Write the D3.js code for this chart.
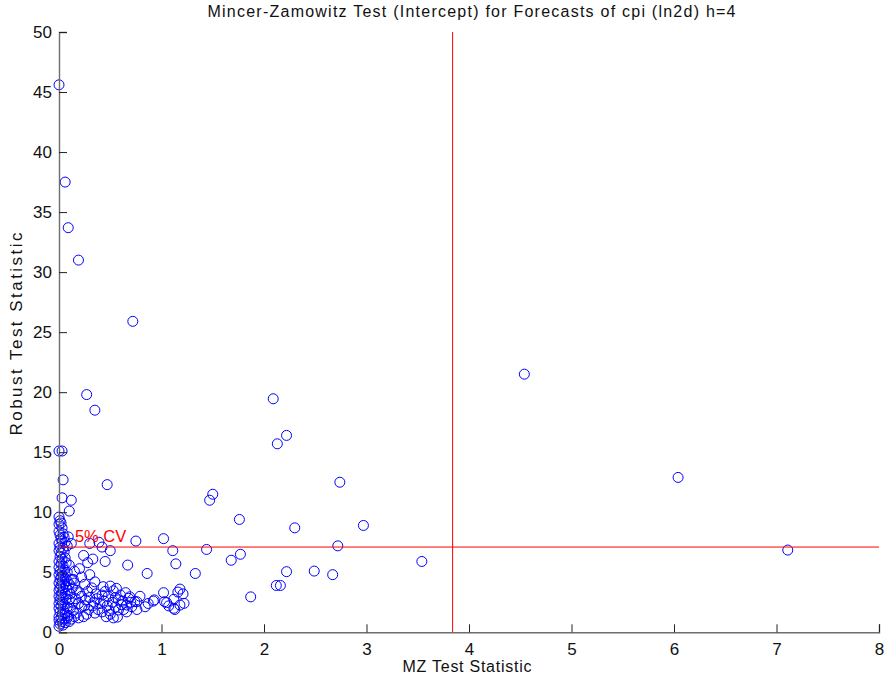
<!DOCTYPE html>
<html><head><meta charset="utf-8">
<script src="https://cdn.jsdelivr.net/npm/d3@7"></script>
<style>body{margin:0;background:#fff}svg{display:block}text{font-family:"Liberation Sans",Arial,sans-serif}</style>
</head><body>
<script>
const titleText = "Mincer-Zamowitz Test (Intercept) for Forecasts of cpi (ln2d) h=4";
const xLabel = "MZ Test Statistic";
const yLabel = "Robust Test Statistic";
const xTicks = [0,1,2,3,4,5,6,7,8];
const yTicks = [0,5,10,15,20,25,30,35,40,45,50];
const cvX = 3.84;
const cvY = 7.1;
const cvLabel = "5% CV";

// MZ statistic (x) and robust statistic (y)
const points = [
// outliers
[0.00,45.6],[0.06,37.5],[0.09,33.7],[0.19,31.0],[0.72,25.9],[0.27,19.8],[0.35,18.5],[0.00,15.1],[0.03,15.1],[0.04,12.7],[0.47,12.3],[0.03,11.2],[0.12,11.0],[0.10,10.1],
[2.09,19.45],[2.22,16.4],[2.13,15.7],[4.54,21.5],[6.04,12.9],[7.11,6.85],[3.54,5.9],[2.97,8.9],[2.74,12.5],[2.72,7.2],[2.67,4.8],[2.49,5.1],[2.22,5.05],[2.30,8.7],[1.76,9.4],[1.50,11.5],[1.47,11.0],[1.02,7.8],[1.11,6.8],[1.44,6.9],[1.77,6.5],[1.68,6.0],[1.14,5.7],[0.86,4.9],[1.33,4.9],[2.12,3.9],[2.16,3.9],[1.87,2.95],[0.75,7.6],[0.67,5.6],
// left column
[0.00,9.6],[0.01,9.3],[0.00,9.0],[0.02,9.1],[0.03,8.7],[0.00,8.4],[0.01,8.1],[0.04,8.2],[0.02,7.8],[0.05,7.9],[0.09,7.95],[0.03,7.6],[0.12,7.4],[0.06,7.5],[0.00,7.4],[0.01,7.1],[0.04,7.0],[0.08,7.2],
[0.00,6.8],[0.02,6.6],[0.05,6.7],[0.01,6.3],[0.03,6.1],[0.00,5.9],[0.06,6.2],[0.02,5.7],[0.04,5.5],[0.00,5.4],[0.07,5.8],[0.01,5.1],[0.03,5.0],[0.10,5.6],[0.05,5.2],[0.08,5.0],
[0.00,4.8],[0.02,4.6],[0.04,4.7],[0.01,4.4],[0.06,4.5],[0.03,4.2],[0.00,4.1],[0.08,4.3],[0.05,4.0],[0.02,3.9],[0.10,4.0],[0.12,4.4],[0.01,3.7],[0.04,3.6],[0.07,3.8],[0.00,3.5],[0.03,3.3],[0.09,3.5],[0.06,3.2],[0.13,3.7],[0.15,4.1],[0.02,3.1],[0.11,3.2],[0.17,3.5],
[0.00,3.0],[0.04,2.9],[0.01,2.7],[0.07,2.8],[0.03,2.5],[0.10,2.7],[0.00,2.4],[0.05,2.3],[0.13,2.5],[0.02,2.2],[0.08,2.1],[0.16,2.8],[0.00,2.0],[0.04,1.9],[0.11,2.0],[0.19,2.4],[0.01,1.7],[0.06,1.6],[0.14,1.8],[0.03,1.5],[0.09,1.4],[0.22,2.1],[0.17,1.6],
[0.00,1.3],[0.02,1.2],[0.05,1.1],[0.00,1.0],[0.08,1.2],[0.03,0.9],[0.01,0.7],[0.06,0.8],[0.12,1.1],[0.04,0.6],[0.15,1.3],[0.10,0.9],[0.19,1.2],[0.00,0.5],
// middle band
[0.20,5.3],[0.15,5.1],[0.14,4.4],[0.43,3.8],[0.50,3.85],[0.56,3.66],[0.45,3.4],[0.53,3.45],[0.42,3.1],[0.30,7.4],[0.39,7.5],[0.50,6.8],[0.42,7.1],[0.24,6.4],[0.33,6.1],[0.45,5.9],[0.28,5.8],
[0.22,3.0],[0.26,2.7],[0.30,2.9],[0.34,2.5],[0.25,2.2],[0.29,1.9],[0.33,2.2],[0.37,2.8],[0.40,2.4],[0.38,1.9],[0.44,2.6],[0.47,2.2],[0.42,1.7],[0.49,1.8],[0.52,2.5],[0.55,2.1],[0.58,2.7],[0.50,1.5],[0.57,1.27],[0.61,2.3],[0.63,1.9],[0.58,1.86],[0.66,2.27],[0.69,2.96],[0.74,2.55],[0.76,1.9],[0.71,2.13],[0.66,1.7],[0.27,1.5],[0.24,1.3],[0.35,1.6],[0.46,1.3],[0.53,1.2],[0.60,3.1],[0.65,3.3],[0.20,3.3],[0.28,3.4],[0.32,3.7],[0.36,3.2],[0.48,3.0],[0.55,2.9],[0.62,2.6],[0.70,2.5],[0.25,4.0],[0.35,4.2],[0.22,4.6],[0.30,4.8],
// right band
[0.79,3.0],[0.92,2.6],[0.87,2.4],[0.84,2.13],[0.76,2.55],[0.68,2.83],[1.02,3.3],[1.18,3.6],[1.16,3.35],[1.21,3.2],[1.03,2.55],[1.07,2.2],[1.12,2.0],[1.18,2.27],[1.22,2.41],[1.12,2.75],[1.05,2.47],[1.13,1.9],[0.93,2.7]
];
const mzStat = points.map(p => p[0]);
const robustStat = points.map(p => p[1]);

const W = 886, H = 679;
const svg = d3.select("body").append("svg").attr("width", W).attr("height", H);
const x = d3.scaleLinear().domain([0,8]).range([59,879]);
const y = d3.scaleLinear().domain([0,50]).range([632.3,32]);

// points
svg.append("g").selectAll("circle").data(mzStat).join("circle")
  .attr("cx", (d,i) => x(d)).attr("cy", (d,i) => y(robustStat[i]))
  .attr("r", 5).attr("fill", "none").attr("stroke", "#0000ff").attr("stroke-width", 1);

// critical value lines
svg.append("line").attr("x1", x(cvX)).attr("x2", x(cvX)).attr("y1", y(0)).attr("y2", y(50))
  .attr("stroke", "#ff0000").attr("stroke-width", 1);
svg.append("line").attr("x1", x(0)).attr("x2", x(8)).attr("y1", y(cvY)).attr("y2", y(cvY))
  .attr("stroke", "#ff0000").attr("stroke-width", 1);
svg.append("text").attr("x", x(0.155)).attr("y", y(7.55)).attr("fill", "#ff0000")
  .attr("font-size", 16.5).text(cvLabel);

// axes
const xAxis = d3.axisBottom(x).tickValues(xTicks).tickSize(-8).tickPadding(11).tickFormat(d3.format("d"));
const yAxis = d3.axisLeft(y).tickValues(yTicks).tickSize(-8).tickPadding(7).tickFormat(d3.format("d"));
const gx = svg.append("g").attr("transform", `translate(0,${y(0)})`).call(xAxis);
const gy = svg.append("g").attr("transform", `translate(${x(0)},0)`).call(yAxis);
[gx, gy].forEach(g => {
  g.select(".domain").attr("stroke", "#6e6e6e").attr("stroke-width", 1.4);
  g.selectAll(".tick line").attr("stroke", "#222");
  g.selectAll(".tick text").attr("font-size", 17).attr("fill", "#111")
    .attr("font-family", '"Liberation Sans",Arial,sans-serif');
});
gx.selectAll(".tick text").attr("dy", "0.71em");

// title and labels
svg.append("text").attr("x", 471.5).attr("y", 17.3).attr("text-anchor", "middle")
  .attr("font-size", 16).attr("fill", "#111")
  .attr("textLength", 528).attr("lengthAdjust", "spacing").text(titleText);
svg.append("text").attr("x", 467).attr("y", 672).attr("text-anchor", "middle")
  .attr("font-size", 16).attr("fill", "#111")
  .attr("textLength", 129).attr("lengthAdjust", "spacing").text(xLabel);
svg.append("text").attr("transform", "translate(22,334) rotate(-90)").attr("text-anchor", "middle")
  .attr("font-size", 17).attr("fill", "#111")
  .attr("textLength", 203).attr("lengthAdjust", "spacing").text(yLabel);
</script>
</body></html>
